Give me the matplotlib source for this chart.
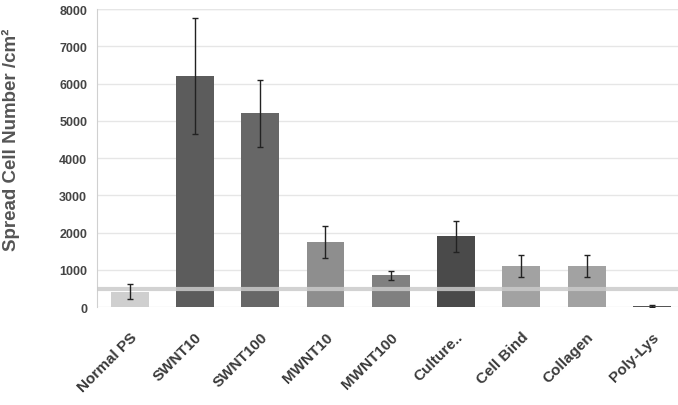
import numpy as np
import matplotlib
matplotlib.use('Agg')
import matplotlib.pyplot as plt

plt.rcParams['font.family'] = ['Liberation Sans', 'DejaVu Sans']

# data
labels = ['Normal PS', 'SWNT10', 'SWNT100', 'MWNT10', 'MWNT100',
          'Culture..', 'Cell Bind', 'Collagen', 'Poly-Lys']
values = [420, 6200, 5200, 1750, 850, 1900, 1100, 1100, 30]
errors = [190, 1550, 900, 420, 120, 420, 300, 300, 30]
colors = ['#cfcfcf', '#5c5c5c', '#676767', '#8e8e8e', '#808080',
          '#4a4a4a', '#a2a2a2', '#a2a2a2', '#555555']
baseline = 480  # reference level line

fig = plt.figure(figsize=(6.78, 4.06), dpi=100)
ax = fig.add_axes([0.143, 0.241, 0.857, 0.734])

x = np.arange(len(labels))
ax.bar(x, values, width=0.58, color=colors, zorder=2)
ax.errorbar(x, values, yerr=errors, fmt='none', ecolor='#222222',
            elinewidth=1.0, capsize=2.5, capthick=1.0, zorder=4)
ax.axhline(baseline, color='#cacaca', lw=3, alpha=0.85, zorder=3)

ax.set_ylim(0, 8000)
ax.set_xlim(-0.5, 8.4)
ax.set_yticks(range(0, 8001, 1000))
ax.grid(axis='y', color='#e6e6e6', lw=1, zorder=0)
ax.axhline(8000, color='#8fa096', lw=1.5, zorder=1)

for s in ['top', 'right', 'bottom']:
    ax.spines[s].set_visible(False)
ax.spines['left'].set_color('#d0d0d0')

ax.tick_params(axis='both', length=0)
ax.tick_params(axis='y', pad=7)
ax.set_yticklabels([str(v) for v in range(0, 8001, 1000)],
                   fontsize=9, fontweight='bold', color='#444444')
ax.set_xticks(x)
ax.set_xticklabels(labels, rotation=45, ha='right', rotation_mode='anchor',
                   fontsize=11, fontweight='bold', color='#3a3a3a')
ax.tick_params(axis='x', pad=16)

ax.set_ylabel('Spread Cell Number /cm²', fontsize=13.5, fontweight='bold',
              color='#555555')
ax.yaxis.set_label_coords(-0.133, 0.565)

plt.savefig('out.png', dpi=100)
